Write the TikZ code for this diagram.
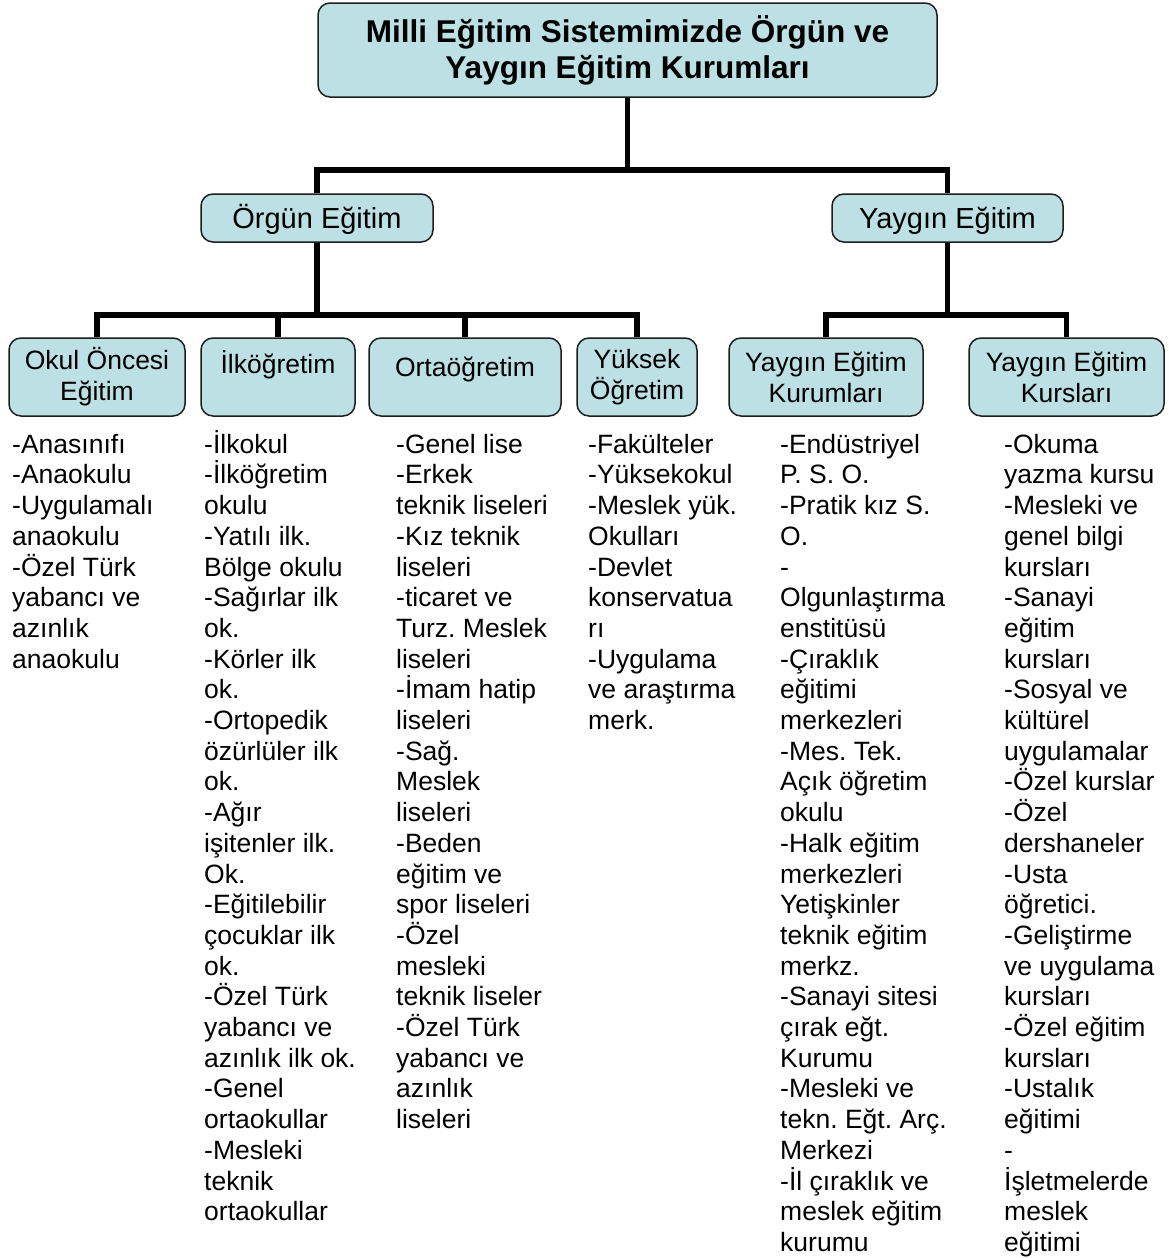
\documentclass[tikz,border=0pt]{standalone}
\usepackage{fontspec}
\setmainfont{Liberation Sans}
\definecolor{boxfill}{RGB}{188,224,228}
\definecolor{boxline}{RGB}{30,30,30}
\frenchspacing
\begin{document}
\begin{tikzpicture}[x=1pt,y=1pt,
  box/.style={draw=boxline, line width=1.5pt, fill=boxfill, rounded corners=12pt,
    align=center, inner sep=0pt},
  titlebox/.style={box, minimum width=619pt, minimum height=94pt,
    font=\fontsize{31.5}{36}\selectfont\bfseries\frenchspacing},
  lvlone/.style={box, minimum height=48pt, text height=26pt, text depth=6pt,
    font=\fontsize{29}{33}\selectfont\frenchspacing},
  lvltwo/.style={box, minimum height=78pt, font=\fontsize{26.5}{31}\selectfont\frenchspacing},
  conn/.style={line width=5.5pt, draw=black},
  col/.style={anchor=north west, inner sep=0pt, align=left,
    font=\fontsize{26.5}{30.7}\selectfont\frenchspacing}
]
\useasboundingbox (0,0) rectangle (1169,-1258);
\fill[white] (0,0) rectangle (1169,-1258);

% title
\node[titlebox] (title) at (627.5,-50) {Milli Eğitim Sistemimizde Örgün ve\\Yaygın Eğitim Kurumları};

% level 1
\node[lvlone, minimum width=232pt] (org) at (317,-218) {Örgün Eğitim};
\node[lvlone, minimum width=231pt] (yay) at (947.5,-218) {Yaygın Eğitim};

% level 2
\node[lvltwo, minimum width=176pt] (ooe) at (97,-377) {Okul Öncesi\\Eğitim};
\node[lvltwo, minimum width=154pt] (ilk) at (278,-377) {İlköğretim\\\mbox{}};
\node[lvltwo, minimum width=192pt, text height=20pt, text depth=22pt] (ort) at (465,-377) {Ortaöğretim};
\node[lvltwo, minimum width=120pt] (yuk) at (637,-377) {Yüksek\\Öğretim};
\node[lvltwo, minimum width=194pt] (ygk) at (826,-377) {Yaygın Eğitim\\Kurumları};
\node[lvltwo, minimum width=195pt] (ygc) at (1066.5,-377) {Yaygın Eğitim\\Kursları};

% bus coordinates
\coordinate (b1) at (627.5,-170);
\coordinate (b2) at (317,-315);
\coordinate (b3) at (947.5,-315);

% connectors
\draw[conn] (title.south) -- (b1);
\draw[conn] (org.north) |- (b1) -| (yay.north);
\draw[conn] (org.south) -- (b2);
\draw[conn] (ooe.north) |- (b2) -| (yuk.north);
\draw[conn] (ilk.north) -- (ilk.north |- b2);
\draw[conn] (ort.north) -- (ort.north |- b2);
\draw[conn] (yay.south) -- (b3);
\draw[conn] (ygk.north) |- (b3) -| (ygc.north);

% columns
\node[col] (c1) at (12,-427) {\rule{0pt}{26pt}-Anasınıfı\\-Anaokulu\\-Uygulamalı\\anaokulu\\-Özel Türk\\yabancı ve\\azınlık\\anaokulu};
\node[col] (c2) at (204,-427) {\rule{0pt}{26pt}-İlkokul\\-İlköğretim\\okulu\\-Yatılı ilk.\\Bölge okulu\\-Sağırlar ilk\\ok.\\-Körler ilk\\ok.\\-Ortopedik\\özürlüler ilk\\ok.\\-Ağır\\işitenler ilk.\\Ok.\\-Eğitilebilir\\çocuklar ilk\\ok.\\-Özel Türk\\yabancı ve\\azınlık ilk ok.\\-Genel\\ortaokullar\\-Mesleki\\teknik\\ortaokullar};
\node[col] (c3) at (396,-427) {\rule{0pt}{26pt}-Genel lise\\-Erkek\\teknik liseleri\\-Kız teknik\\liseleri\\-ticaret ve\\Turz. Meslek\\liseleri\\-İmam hatip\\liseleri\\-Sağ.\\Meslek\\liseleri\\-Beden\\eğitim ve\\spor liseleri\\-Özel\\mesleki\\teknik liseler\\-Özel Türk\\yabancı ve\\azınlık\\liseleri};
\node[col] (c4) at (588,-427) {\rule{0pt}{26pt}-Fakülteler\\-Yüksekokul\\-Meslek yük.\\Okulları\\-Devlet\\konservatua\\rı\\-Uygulama\\ve araştırma\\merk.};
\node[col] (c5) at (780,-427) {\rule{0pt}{26pt}-Endüstriyel\\P. S. O.\\-Pratik kız S.\\O.\\-\\Olgunlaştırma\\enstitüsü\\-Çıraklık\\eğitimi\\merkezleri\\-Mes. Tek.\\Açık öğretim\\okulu\\-Halk eğitim\\merkezleri\\Yetişkinler\\teknik eğitim\\merkz.\\-Sanayi sitesi\\çırak eğt.\\Kurumu\\-Mesleki ve\\tekn. Eğt. Arç.\\Merkezi\\-İl çıraklık ve\\meslek eğitim\\kurumu};
\node[col] (c6) at (1004,-427) {\rule{0pt}{26pt}-Okuma\\yazma kursu\\-Mesleki ve\\genel bilgi\\kursları\\-Sanayi\\eğitim\\kursları\\-Sosyal ve\\kültürel\\uygulamalar\\-Özel kurslar\\-Özel\\dershaneler\\-Usta\\öğretici.\\-Geliştirme\\ve uygulama\\kursları\\-Özel eğitim\\kursları\\-Ustalık\\eğitimi\\-\\İşletmelerde\\meslek\\eğitimi};
\end{tikzpicture}
\end{document}
